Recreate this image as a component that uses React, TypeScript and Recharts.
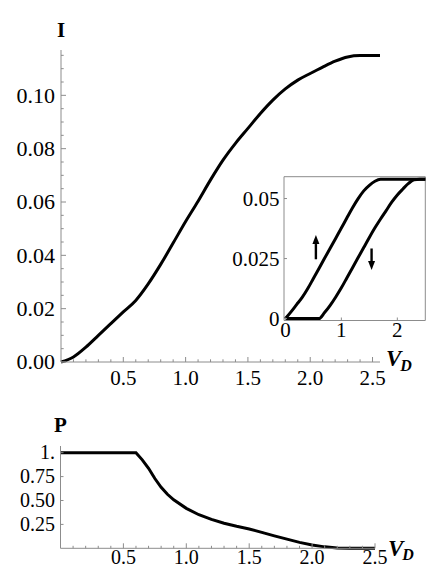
import React from 'react';
import { LineChart, Line, XAxis, YAxis, ReferenceArea, ReferenceLine, Label } from 'recharts';

const FONT = '"Liberation Serif", "Times New Roman", Times, serif';
const AXIS_GRAY = '#8c8c8c';

// ---- main I(V_D) curve ----
const mainV = [0, 0.1, 0.2, 0.3, 0.4, 0.5, 0.6, 0.7, 0.8, 0.9, 1.0, 1.1, 1.2, 1.3, 1.4, 1.5, 1.6, 1.7, 1.8, 1.9, 2.0, 2.1, 2.2, 2.3, 2.4, 2.56];
const mainI = [0, 0.0019, 0.0056, 0.01, 0.0144, 0.0188, 0.0231, 0.0293, 0.0366, 0.0446, 0.0527, 0.0603, 0.0683, 0.0757, 0.082, 0.0876, 0.0932, 0.0982, 0.1024, 0.1057, 0.1082, 0.1106, 0.1128, 0.1144, 0.1149, 0.1149];
const mainYTicks = [0, 0.005, 0.01, 0.015, 0.02, 0.025, 0.03, 0.035, 0.04, 0.045, 0.05, 0.055, 0.06, 0.065, 0.07, 0.075, 0.08, 0.085, 0.09, 0.095, 0.1, 0.105, 0.11, 0.115];
const mainYMajor = [0, 0.02, 0.04, 0.06, 0.08, 0.1];
const mainYLabels = ['0.00', '0.02', '0.04', '0.06', '0.08', '0.10'];
const xMinorTicks = [0.1, 0.2, 0.3, 0.4, 0.5, 0.6, 0.7, 0.8, 0.9, 1.0, 1.1, 1.2, 1.3, 1.4, 1.5, 1.6, 1.7, 1.8, 1.9, 2.0, 2.1, 2.2, 2.3, 2.4, 2.5];
const xMajor = [0.5, 1.0, 1.5, 2.0, 2.5];
const xLabels = ['0.5', '1.0', '1.5', '2.0', '2.5'];

// ---- inset hysteresis ----
const insetV = [0, 0.1, 0.2, 0.3, 0.4, 0.5, 0.6, 0.7, 0.8, 0.9, 1.0, 1.1, 1.2, 1.3, 1.4, 1.5, 1.6, 1.7, 1.8, 1.9, 2.0, 2.1, 2.2, 2.3, 2.4, 2.5];
const upI = [0, 0.0028, 0.0058, 0.0088, 0.0125, 0.0167, 0.0209, 0.0251, 0.0293, 0.0335, 0.0377, 0.042, 0.0462, 0.05, 0.0532, 0.0555, 0.0572, 0.058, 0.058, 0.058, 0.058, 0.058, 0.058, 0.058, 0.058, 0.058];
const downI = [0, 0, 0, 0, 0, 0, 0, 0.0025, 0.0055, 0.009, 0.0128, 0.017, 0.0212, 0.0254, 0.0296, 0.0338, 0.0378, 0.0415, 0.045, 0.0485, 0.0515, 0.054, 0.0563, 0.0578, 0.058, 0.058];
const insetXTicks = [0, 1, 2];
const insetXLabels = ['0', '1', '2'];
const insetYTicks = [0, 0.025, 0.05];
const insetYLabels = ['0', '0.025', '0.05'];
const arrowUp = { v: 0.545, from: 0.0247, to: 0.0348 };
const arrowDown = { v: 1.54, from: 0.0292, to: 0.0202 };

// ---- P(V_D) curve ----
const pV = [0, 0.1, 0.2, 0.3, 0.4, 0.5, 0.6, 0.65, 0.7, 0.75, 0.8, 0.85, 0.9, 1.0, 1.1, 1.2, 1.3, 1.4, 1.5, 1.6, 1.7, 1.8, 1.9, 2.0, 2.1, 2.2, 2.3, 2.4, 2.5];
const pP = [1, 1, 1, 1, 1, 1, 1, 0.925, 0.837, 0.73, 0.638, 0.565, 0.507, 0.418, 0.351, 0.303, 0.262, 0.23, 0.202, 0.167, 0.13, 0.096, 0.062, 0.034, 0.015, 0.004, 0, 0, 0];
const pYTicks = [0.25, 0.5, 0.75, 1];
const pYLabels = ['0.25', '0.50', '0.75', '1.'];

const mainData = mainV.map((v, i) => ({ v, I: mainI[i] }));
const insetData = insetV.map((v, i) => ({ v, up: upI[i], down: downI[i] }));
const pData = pV.map((v, i) => ({ v, P: pP[i] }));

type TickOpts = {
  side: 'left' | 'bottom';
  majors: number[];
  labels: string[];
  majorLen: number;
  minorLen: number;
  fontSize: number;
  gap: number;
};

const makeTick = (o: TickOpts) => (props: any) => {
  const { x, y, payload } = props;
  const v = Number(payload && payload.value);
  const k = o.majors.findIndex((m) => Math.abs(m - v) < 1e-9);
  const len = k >= 0 ? o.majorLen : o.minorLen;
  if (o.side === 'left') {
    return (
      <g>
        <line x1={x} y1={y} x2={x + len} y2={y} stroke={AXIS_GRAY} strokeWidth={1} />
        {k >= 0 && o.labels[k] ? (
          <text x={x - o.gap} y={y} dy="0.34em" textAnchor="end" fontFamily={FONT} fontSize={o.fontSize} fill="#000">
            {o.labels[k]}
          </text>
        ) : null}
      </g>
    );
  }
  return (
    <g>
      <line x1={x} y1={y} x2={x} y2={y - len} stroke={AXIS_GRAY} strokeWidth={1} />
      {k >= 0 && o.labels[k] ? (
        <text x={x} y={y + o.gap} textAnchor="middle" fontFamily={FONT} fontSize={o.fontSize} fill="#000">
          {o.labels[k]}
        </text>
      ) : null}
    </g>
  );
};

const mainYTick = makeTick({ side: 'left', majors: mainYMajor, labels: mainYLabels, majorLen: 5, minorLen: 2.7, fontSize: 22, gap: 6 });
const mainXTick = makeTick({ side: 'bottom', majors: xMajor, labels: xLabels, majorLen: 5, minorLen: 2.7, fontSize: 21, gap: 23 });
const insetYTick = makeTick({ side: 'left', majors: insetYTicks, labels: insetYLabels, majorLen: 3, minorLen: 3, fontSize: 21, gap: 4.5 });
const insetXTick = makeTick({ side: 'bottom', majors: insetXTicks, labels: insetXLabels, majorLen: 3, minorLen: 3, fontSize: 21, gap: 16.5 });
const pYTick = makeTick({ side: 'left', majors: pYTicks, labels: pYLabels, majorLen: 3, minorLen: 3, fontSize: 20, gap: 5.5 });
const pXTick = makeTick({ side: 'bottom', majors: xMajor, labels: xLabels, majorLen: 5, minorLen: 2.5, fontSize: 20, gap: 15.7 });

const renderTitle = (text: string, dy: number) => (props: any) => {
  const vb = props.viewBox || {};
  return (
    <text x={(vb.x || 0) + (vb.width || 0)} y={(vb.y || 0) - dy} textAnchor="middle" fontFamily={FONT} fontWeight="bold" fontSize={21} fill="#000">
      {text}
    </text>
  );
};

const renderVD = (dx: number, dy: number) => (props: any) => {
  const vb = props.viewBox || {};
  return (
    <text x={(vb.x || 0) + (vb.width || 0) + dx} y={(vb.y || 0) + dy} fontFamily={FONT} fontStyle="italic" fontWeight="bold" fontSize={23} fill="#000">
      V
      <tspan dx={-1} dy={4.5} fontSize={16}>
        D
      </tspan>
    </text>
  );
};

const Arrow = (props: any) => {
  const { x1, y1, x2, y2 } = props;
  const dir = y2 < y1 ? -1 : 1;
  const head = 9;
  const hw = 3.5;
  const baseY = y2 - dir * head;
  return (
    <g>
      <line x1={x1} y1={y1} x2={x2} y2={baseY} stroke="#000" strokeWidth={2.4} />
      <polygon points={`${x2},${y2} ${x2 - hw},${baseY} ${x2 + hw},${baseY}`} fill="#000" />
    </g>
  );
};

export default function App() {
  return (
    <div style={{ position: 'absolute', left: 0, top: 0, width: 436, height: 584, background: '#fff', fontFamily: FONT }}>
      <div style={{ position: 'absolute', left: 0, top: 0 }}>
        <LineChart width={436} height={400} data={mainData} margin={{ top: 50, right: 56, bottom: 37, left: 60 }}>
          <XAxis
            type="number"
            dataKey="v"
            domain={[0, 2.56]}
            ticks={xMinorTicks}
            interval={0}
            height={1}
            tickSize={0}
            tickMargin={0}
            tickLine={false}
            axisLine={{ stroke: AXIS_GRAY }}
            tick={mainXTick}
          >
            <Label content={renderVD(6, 4)} />
          </XAxis>
          <YAxis
            type="number"
            domain={[0, 0.117]}
            ticks={mainYTicks}
            interval={0}
            width={1}
            tickSize={0}
            tickMargin={0}
            tickLine={false}
            axisLine={{ stroke: AXIS_GRAY }}
            tick={mainYTick}
          >
            <Label content={renderTitle('I', 13.5)} />
          </YAxis>
          <Line dataKey="I" type="monotone" stroke="#000" strokeWidth={3} dot={false} isAnimationActive={false} />
        </LineChart>
      </div>

      <div style={{ position: 'absolute', left: 0, top: 0 }}>
        <LineChart width={436} height={400} data={insetData} margin={{ top: 176.7, right: 10.7, bottom: 78.5, left: 283 }}>
          <XAxis
            type="number"
            dataKey="v"
            domain={[-0.025, 2.5]}
            ticks={insetXTicks}
            interval={0}
            height={1}
            tickSize={0}
            tickMargin={0}
            tickLine={false}
            axisLine={false}
            tick={insetXTick}
          />
          <YAxis
            type="number"
            domain={[-0.0008, 0.0591]}
            ticks={insetYTicks}
            interval={0}
            width={1}
            tickSize={0}
            tickMargin={0}
            tickLine={false}
            axisLine={false}
            tick={insetYTick}
          />
          <ReferenceArea x1={-0.025} x2={2.5} y1={-0.0008} y2={0.0591} fill="none" fillOpacity={0} stroke={AXIS_GRAY} strokeWidth={1} ifOverflow="visible" />
          <Line dataKey="up" type="monotone" stroke="#000" strokeWidth={3} dot={false} isAnimationActive={false} />
          <Line dataKey="down" type="monotone" stroke="#000" strokeWidth={3} dot={false} isAnimationActive={false} />
          <ReferenceLine
            segment={[{ x: arrowUp.v, y: arrowUp.from }, { x: arrowUp.v, y: arrowUp.to }]}
            shape={Arrow}
            ifOverflow="visible"
          />
          <ReferenceLine
            segment={[{ x: arrowDown.v, y: arrowDown.from }, { x: arrowDown.v, y: arrowDown.to }]}
            shape={Arrow}
            ifOverflow="visible"
          />
        </LineChart>
      </div>

      <div style={{ position: 'absolute', left: 0, top: 400 }}>
        <LineChart width={436} height={184} data={pData} margin={{ top: 46, right: 61, bottom: 34.7, left: 59.5 }}>
          <XAxis
            type="number"
            dataKey="v"
            domain={[0, 2.5]}
            ticks={xMinorTicks}
            interval={0}
            height={1}
            tickSize={0}
            tickMargin={0}
            tickLine={false}
            axisLine={{ stroke: AXIS_GRAY }}
            tick={pXTick}
          >
            <Label content={renderVD(13, 7.5)} />
          </XAxis>
          <YAxis
            type="number"
            domain={[0, 1.07]}
            ticks={pYTicks}
            interval={0}
            width={1}
            tickSize={0}
            tickMargin={0}
            tickLine={false}
            axisLine={{ stroke: AXIS_GRAY }}
            tick={pYTick}
          >
            <Label content={renderTitle('P', 14)} />
          </YAxis>
          <Line dataKey="P" type="linear" stroke="#000" strokeWidth={3} dot={false} isAnimationActive={false} />
        </LineChart>
      </div>
    </div>
  );
}
